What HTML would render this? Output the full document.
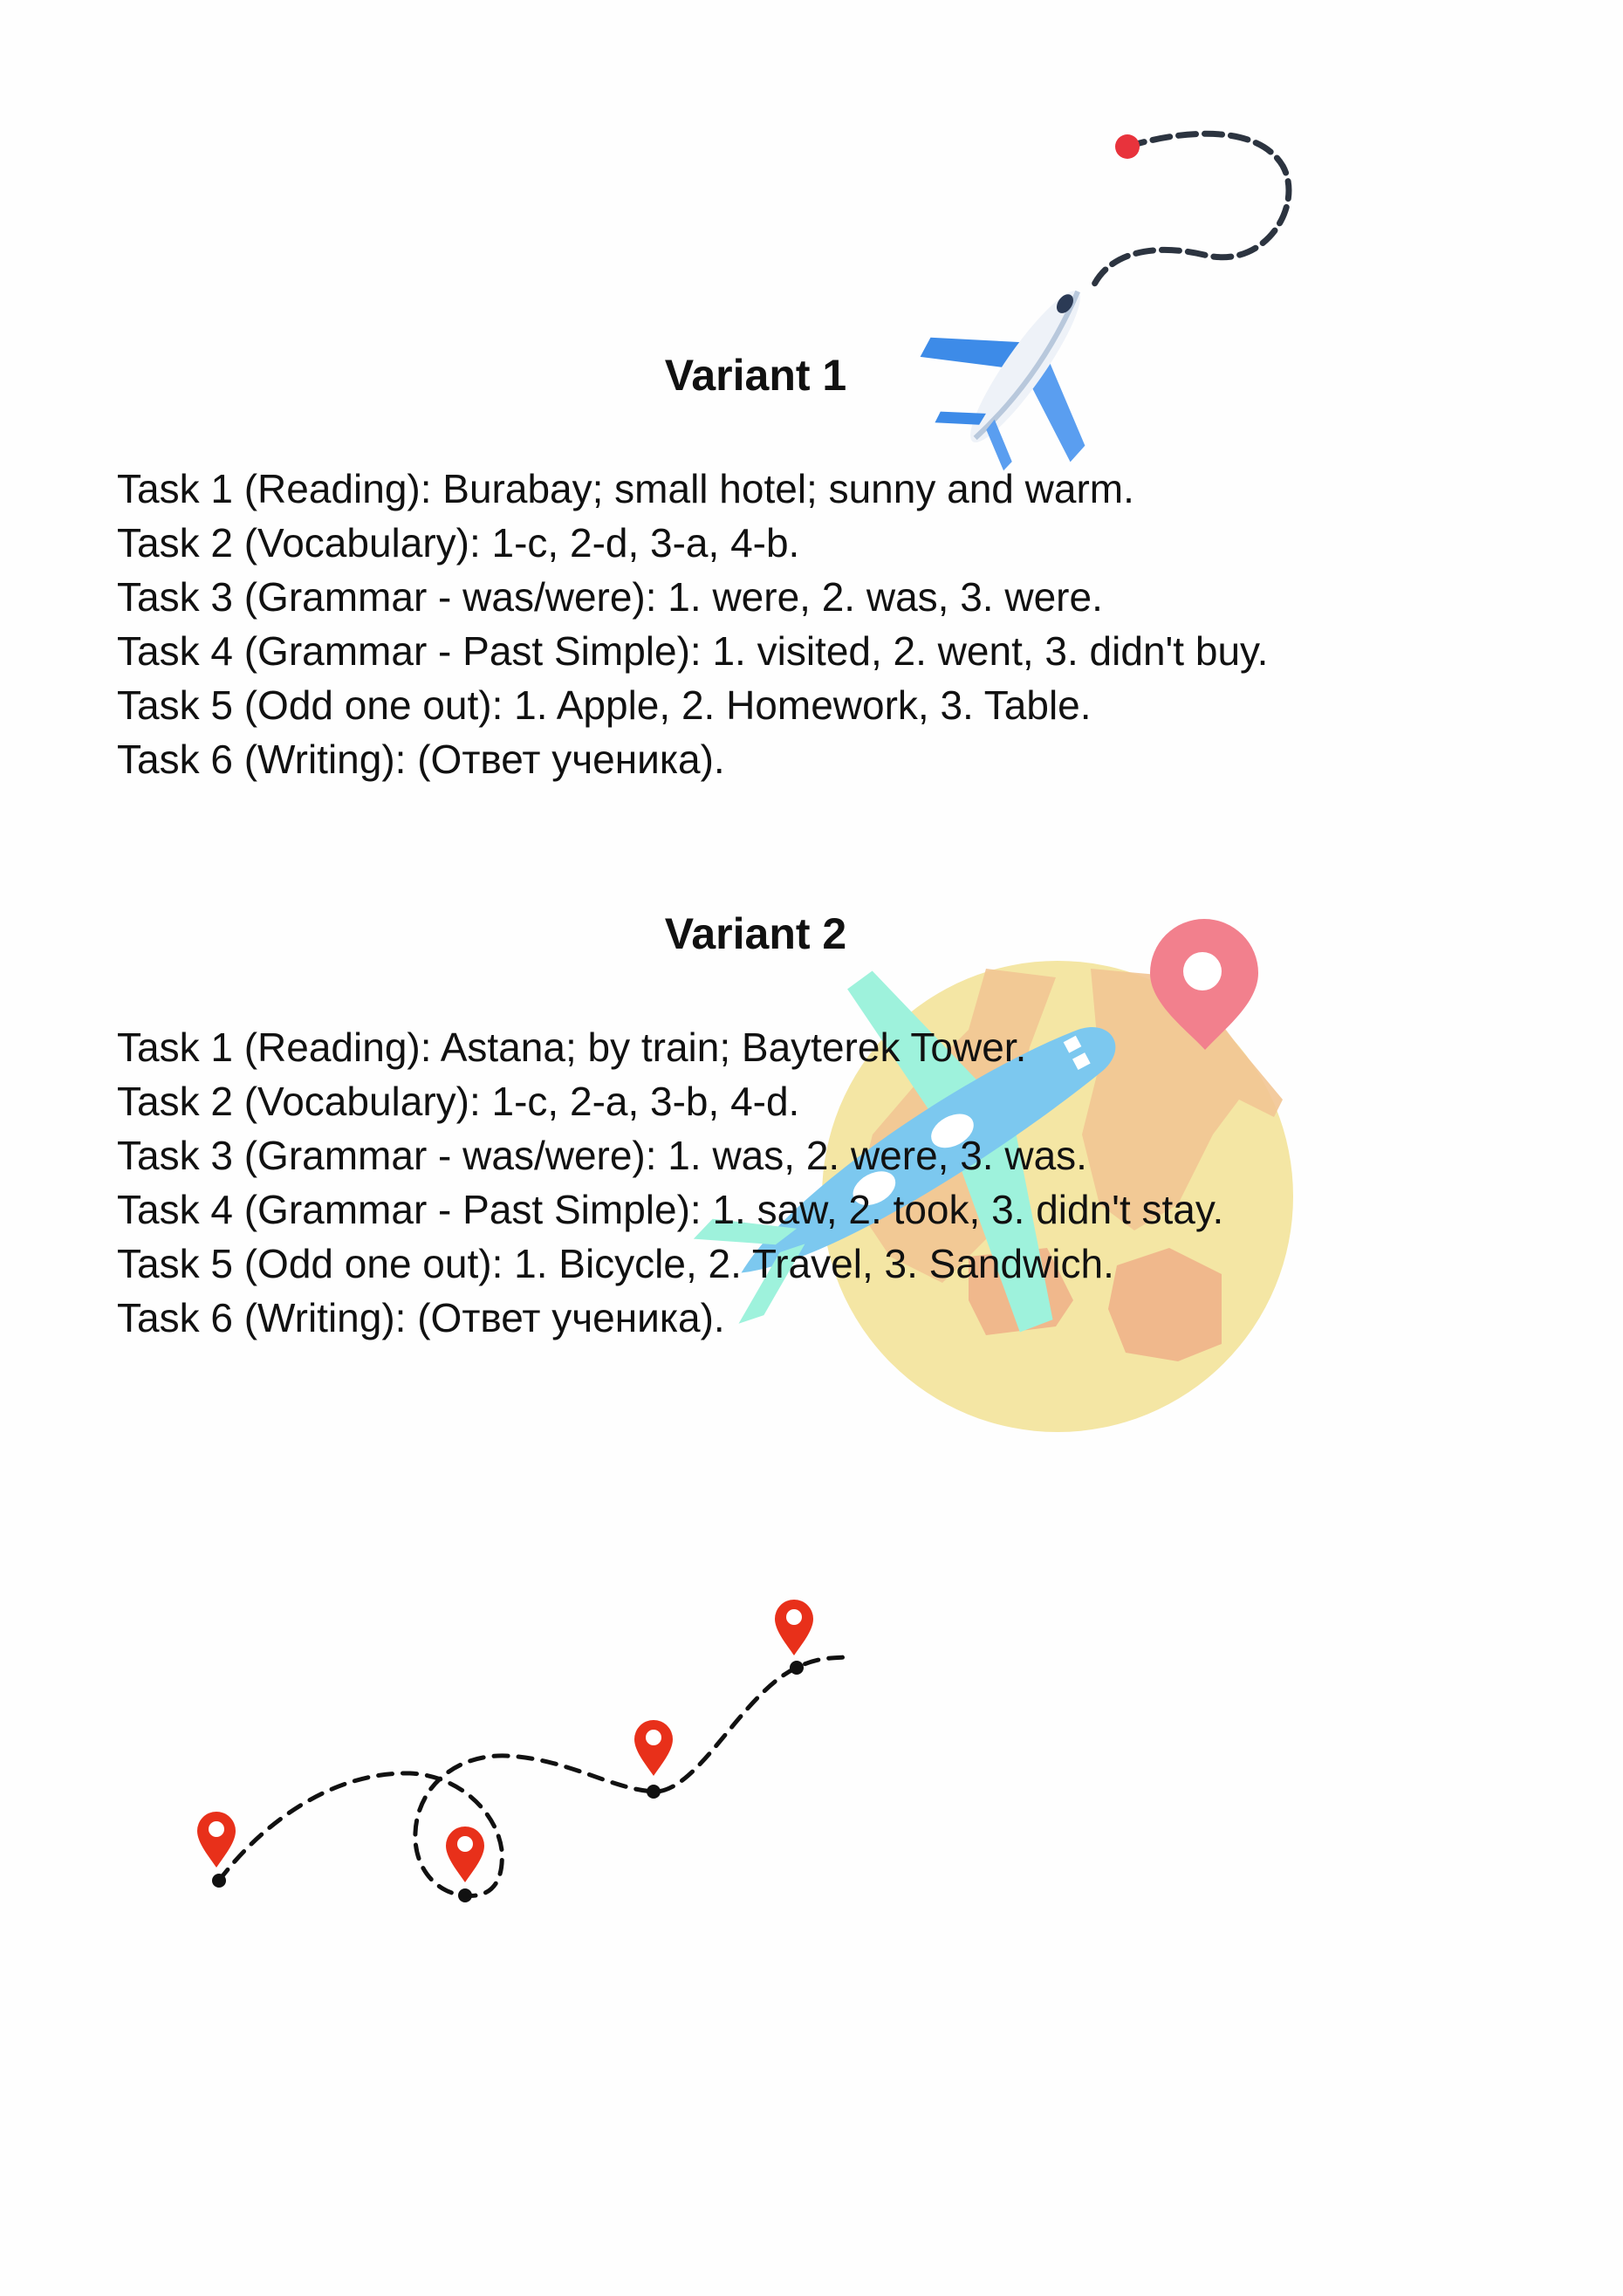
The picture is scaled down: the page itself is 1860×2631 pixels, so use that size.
<!DOCTYPE html>
<html><head><meta charset="utf-8">
<style>
html,body{margin:0;padding:0;background:#fefefe;}
body{width:1860px;height:2631px;position:relative;overflow:hidden;font-family:"Liberation Sans","DejaVu Sans",sans-serif;color:#111;}
svg{position:absolute;left:0;top:0;}
.h{position:absolute;font-weight:bold;font-size:50px;width:1732px;left:0;text-align:center;}
.t{position:absolute;left:134px;font-size:46px;white-space:nowrap;}
.txt{position:absolute;left:0;top:0;width:1860px;height:2631px;}
</style></head><body>
<svg width="1860" height="2631" viewBox="0 0 1860 2631">
  <path d="M1292,168 C1350,150 1440,140 1470,190 C1495,235 1450,310 1380,292 C1320,278 1270,290 1252,330" fill="none" stroke="#2c3440" stroke-width="7" stroke-dasharray="20 10" stroke-linecap="round"/>
  <circle cx="1292" cy="168" r="14" fill="#e8333c"/>
  <g transform="translate(1175,420) rotate(-55)">
    <polygon points="-10,-10 -60,-105 -35,-108 25,-12" fill="#3d8be8"/>
    <polygon points="-10,10 -60,105 -35,108 25,12" fill="#5a9ef0"/>
    <ellipse cx="0" cy="0" rx="105" ry="22" fill="#eef2f8"/>
    <path d="M-100,0 Q0,22 105,0" fill="none" stroke="#b8c8dc" stroke-width="6"/>
    <polygon points="-85,-5 -112,-48 -98,-50 -70,-6" fill="#3d8be8"/>
    <polygon points="-85,5 -112,48 -98,50 -70,6" fill="#5a9ef0"/>
    <ellipse cx="85" cy="-4" rx="12" ry="8" fill="#2b3a55"/>
  </g>
  <circle cx="1212" cy="1371" r="270" fill="#f4e6a4"/>
  <path d="M1130,1110 L1210,1120 L1180,1200 L1160,1300 L1130,1420 L1080,1470 L1020,1440 L980,1380 L1000,1300 L1060,1230 L1110,1180 Z" fill="#f2c594" opacity=".9"/>
  <path d="M1250,1110 L1360,1120 L1420,1200 L1470,1260 L1460,1280 L1420,1260 L1390,1300 L1350,1380 L1300,1410 L1260,1380 L1240,1300 L1260,1220 Z" fill="#f2c594" opacity=".9"/>
  <path d="M1280,1450 L1340,1430 L1400,1460 L1400,1540 L1350,1560 L1290,1550 L1270,1500 Z" fill="#f0b88c"/>
  <path d="M1110,1440 L1200,1430 L1230,1490 L1210,1520 L1130,1530 L1110,1490 Z" fill="#f0b88c"/>
  <path d="M1381,1203 C1360,1180 1318,1150 1318,1115 A62,62 0 1 1 1442,1115 C1442,1150 1402,1180 1381,1203 Z" fill="#f2808d"/>
  <circle cx="1378" cy="1113" r="22" fill="#fff"/>
  <g transform="translate(1105,1300) rotate(-28)">
    <polygon points="-20,-20 -40,-210 -5,-215 50,-20" fill="#9ef2dc"/>
    <polygon points="-20,20 -50,230 -10,235 55,20" fill="#9ef2dc"/>
    <path d="M-300,20 C-200,-40 50,-60 170,-45 C210,-40 215,0 175,10 C50,35 -200,60 -300,20 Z" fill="#7cc8ef"/>
    <polygon points="-250,10 -330,-40 -300,-50 -220,5" fill="#9ef2dc"/>
    <polygon points="-250,20 -330,70 -300,75 -220,25" fill="#9ef2dc"/>
    <ellipse cx="-10" cy="-10" rx="26" ry="17" fill="#fff"/>
    <ellipse cx="-120" cy="6" rx="26" ry="17" fill="#fff"/>
    <rect x="150" y="-40" width="16" height="14" fill="#fff"/>
    <rect x="150" y="-18" width="16" height="14" fill="#fff"/>
  </g>
  <path d="M251,2155 C300,2090 380,2030 470,2032 C530,2035 570,2080 575,2120 C578,2160 560,2175 533,2172 C500,2170 474,2140 476,2100 C478,2050 520,2010 580,2012 C650,2015 700,2050 749,2053 C800,2055 850,1940 913,1911 C935,1900 950,1900 969,1899" fill="none" stroke="#111" stroke-width="5" stroke-dasharray="16 12" stroke-linecap="round"/>
  <g fill="#111">
    <circle cx="251" cy="2155" r="8"/><circle cx="533" cy="2172" r="8"/><circle cx="749" cy="2053" r="8"/><circle cx="913" cy="1911" r="8"/>
  </g>
  <g fill="#e8301a">
    <path d="M248,2140 C240,2128 226,2112 226,2098 A22,22 0 1 1 270,2098 C270,2112 256,2128 248,2140 Z"/>
    <path d="M533,2157 C525,2145 511,2129 511,2115 A22,22 0 1 1 555,2115 C555,2129 541,2145 533,2157 Z"/>
    <path d="M749,2035 C741,2023 727,2007 727,1993 A22,22 0 1 1 771,1993 C771,2007 757,2023 749,2035 Z"/>
    <path d="M910,1897 C902,1885 888,1869 888,1855 A22,22 0 1 1 932,1855 C932,1869 918,1885 910,1897 Z"/>
  </g>
  <g fill="#fff">
    <circle cx="248" cy="2096" r="9"/><circle cx="533" cy="2113" r="9"/><circle cx="749" cy="1991" r="9"/><circle cx="910" cy="1853" r="9"/>
  </g>
</svg>
<div class="txt">
<div class="h" style="top:401px">Variant 1</div>
<div class="t" style="top:533px">Task 1 (Reading): Burabay; small hotel; sunny and warm.</div>
<div class="t" style="top:595px">Task 2 (Vocabulary): 1-c, 2-d, 3-a, 4-b.</div>
<div class="t" style="top:657px">Task 3 (Grammar - was/were): 1. were, 2. was, 3. were.</div>
<div class="t" style="top:719px">Task 4 (Grammar - Past Simple): 1. visited, 2. went, 3. didn't buy.</div>
<div class="t" style="top:781px">Task 5 (Odd one out): 1. Apple, 2. Homework, 3. Table.</div>
<div class="t" style="top:843px">Task 6 (Writing): (Ответ ученика).</div>
<div class="h" style="top:1041px">Variant 2</div>
<div class="t" style="top:1173px">Task 1 (Reading): Astana; by train; Bayterek Tower.</div>
<div class="t" style="top:1235px">Task 2 (Vocabulary): 1-c, 2-a, 3-b, 4-d.</div>
<div class="t" style="top:1297px">Task 3 (Grammar - was/were): 1. was, 2. were, 3. was.</div>
<div class="t" style="top:1359px">Task 4 (Grammar - Past Simple): 1. saw, 2. took, 3. didn't stay.</div>
<div class="t" style="top:1421px">Task 5 (Odd one out): 1. Bicycle, 2. Travel, 3. Sandwich.</div>
<div class="t" style="top:1483px">Task 6 (Writing): (Ответ ученика).</div>
</div>
</body></html>
